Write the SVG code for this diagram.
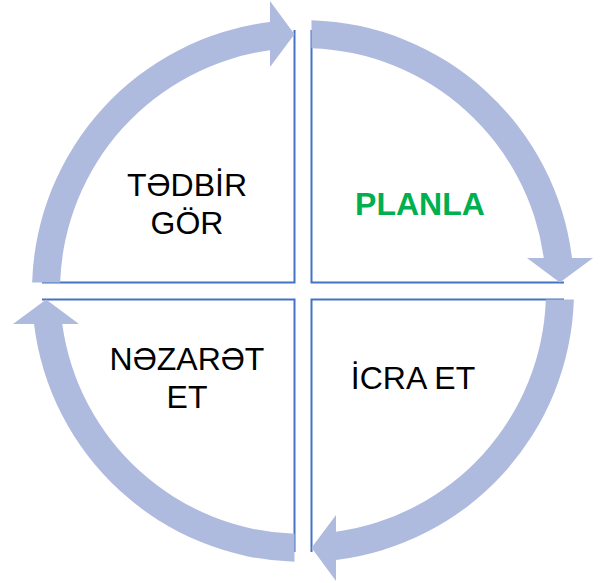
<svg xmlns="http://www.w3.org/2000/svg" width="601" height="583" viewBox="0 0 601 583">
  <style>
    .edge { fill: none; stroke: #4472C4; stroke-width: 2; }
    .lbl { font-family: "Liberation Sans", Arial, sans-serif; font-size: 32px; fill: #000000; text-anchor: middle; }
    .plan { font-weight: bold; fill: #00B050; }
    .arc { fill: #AFBBDE; stroke: none; }
  </style>
  <defs>
    <path id="arcArrow" d="M 8.5,-270.87 A 271 271 0 0 1 268.98,-33 L 290,-33 L 256.86,-8.5 L 224,-33 L 240.75,-33 A 243 243 0 0 0 8.5,-242.85 Z"/>
  </defs>
  <rect x="0" y="0" width="601" height="583" fill="#FFFFFF"/>

  <g id="node-tedbir-gor">
    <path class="edge" d="M 294.5,30 L 294.5,282.5 L 42,282.5"/>
    <text class="lbl" x="187" y="196">TƏDBİR</text>
    <text class="lbl" x="187" y="234">GÖR</text>
  </g>
  <g id="node-planla">
    <path class="edge" d="M 311.5,30 L 311.5,282.5 L 564,282.5"/>
    <text class="lbl plan" x="420" y="215">PLANLA</text>
  </g>
  <g id="node-icra-et">
    <path class="edge" d="M 564,299.5 L 311.5,299.5 L 311.5,552"/>
    <text class="lbl" x="413" y="389">İCRA ET</text>
  </g>
  <g id="node-nezaret-et">
    <path class="edge" d="M 294.5,552 L 294.5,299.5 L 42,299.5"/>
    <text class="lbl" x="187" y="370">NƏZARƏT</text>
    <text class="lbl" x="187" y="408">ET</text>
  </g>

  <g id="connectors">
    <use href="#arcArrow" class="arc" transform="translate(303 291)"/>
    <use href="#arcArrow" class="arc" transform="translate(303 291) rotate(90)"/>
    <use href="#arcArrow" class="arc" transform="translate(303 291) rotate(180)"/>
    <use href="#arcArrow" class="arc" transform="translate(303 291) rotate(270)"/>
  </g>
</svg>
